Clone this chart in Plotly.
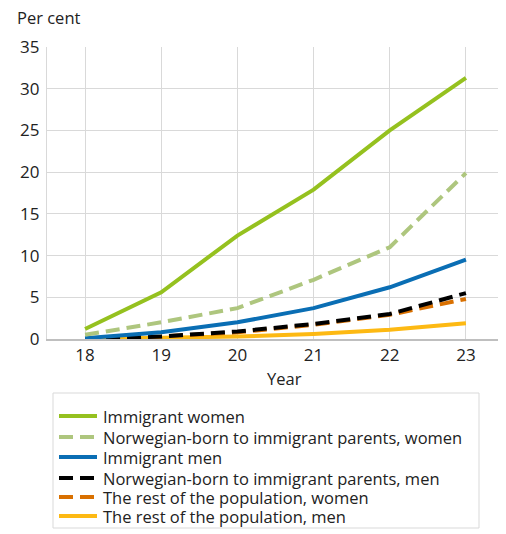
import plotly.graph_objects as go

years = [18, 19, 20, 21, 22, 23]

series_names = [
    "Immigrant women",
    "Norwegian-born to immigrant parents, women",
    "Immigrant men",
    "Norwegian-born to immigrant parents, men",
    "The rest of the population, women",
    "The rest of the population, men",
]

immigrant_women = [1.2, 5.6, 12.4, 17.9, 25.0, 31.3]
nb_women = [0.5, 2.0, 3.7, 7.1, 11.0, 19.9]
immigrant_men = [0.1, 0.8, 2.0, 3.7, 6.2, 9.5]
nb_men = [0.0, 0.3, 0.9, 1.8, 3.0, 5.5]
rest_women = [0.0, 0.3, 0.8, 1.7, 2.9, 4.8]
rest_men = [0.0, 0.1, 0.3, 0.6, 1.1, 1.9]

values = [immigrant_women, nb_women, immigrant_men, nb_men, rest_women, rest_men]
colors = ["#95c11f", "#aec67e", "#0a6eb4", "#000000", "#d97000", "#fdb913"]
DASH = "14px,7px"
dashes = ["solid", DASH, "solid", DASH, DASH, "solid"]

FONT = "Open Sans, Noto Sans, sans-serif"
TXT = "#222222"

# page has an 8px body margin, so the figure is sized to fit inside the window
W, H = 498, 526
ML, MT, MR, MB = 39, 39, 2, 195
plot_w = W - ML - MR
plot_h = H - MT - MB


def px_x(x):
    # window x pixel -> paper x
    return (x - 8 - ML) / plot_w


def px_y(y):
    # window y pixel -> paper y
    return 1 - (y - 8 - MT) / plot_h


fig = go.Figure()

# draw bottom series first so the greens sit on top
for name, ys, col, dash in reversed(list(zip(series_names, values, colors, dashes))):
    fig.add_trace(
        go.Scatter(
            x=years,
            y=ys,
            mode="lines",
            name=name,
            line=dict(color=col, width=4, dash=dash),
            showlegend=False,
            hoverinfo="x+y+name",
        )
    )

# hand-built legend box, matches the long line samples of the original
legend_rows = [416, 437, 457, 478, 497, 516]
shapes = [
    dict(
        type="rect", xref="paper", yref="paper",
        x0=px_x(53), x1=px_x(479), y0=px_y(528), y1=px_y(393),
        line=dict(color="#d9d9d9", width=1), fillcolor="white",
    )
]
annotations = []
for row, name, col, dash in zip(legend_rows, series_names, colors, dashes):
    shapes.append(
        dict(
            type="line", xref="paper", yref="paper",
            x0=px_x(59), x1=px_x(97), y0=px_y(row), y1=px_y(row),
            line=dict(color=col, width=4, dash=dash),
        )
    )
    annotations.append(
        dict(
            text=name, xref="paper", yref="paper", x=px_x(101), y=px_y(row),
            xanchor="left", yanchor="middle", showarrow=False,
            font=dict(size=16.5, color=TXT, family=FONT),
        )
    )

annotations.append(
    dict(
        text="Per cent", xref="paper", yref="paper", x=px_x(15), y=px_y(17),
        xanchor="left", yanchor="middle", showarrow=False,
        font=dict(size=16.5, color=TXT, family=FONT),
    )
)
annotations.append(
    dict(
        text="Year", xref="paper", yref="paper", x=px_x(284), y=px_y(378),
        xanchor="center", yanchor="middle", showarrow=False,
        font=dict(size=16.5, color=TXT, family=FONT),
    )
)

fig.update_layout(
    width=W,
    height=H,
    margin=dict(l=ML, r=MR, t=MT, b=MB),
    plot_bgcolor="white",
    paper_bgcolor="white",
    font=dict(family=FONT, size=17, color=TXT),
    shapes=shapes,
    annotations=annotations,
    xaxis=dict(
        range=[17.5, 23.5],
        tickvals=years,
        showgrid=True,
        gridcolor="#d9d9d9",
        gridwidth=1.3,
        showline=True,
        linecolor="#bfbfbf",
        linewidth=1.5,
        zeroline=False,
        ticks="",
    ),
    yaxis=dict(
        range=[0, 35],
        dtick=5,
        showgrid=True,
        gridcolor="#d9d9d9",
        gridwidth=1.3,
        showline=True,
        linecolor="#d9d9d9",
        linewidth=1.3,
        zeroline=False,
        ticks="",
        ticklabelstandoff=3,
    ),
)

fig.write_html("out.html")
